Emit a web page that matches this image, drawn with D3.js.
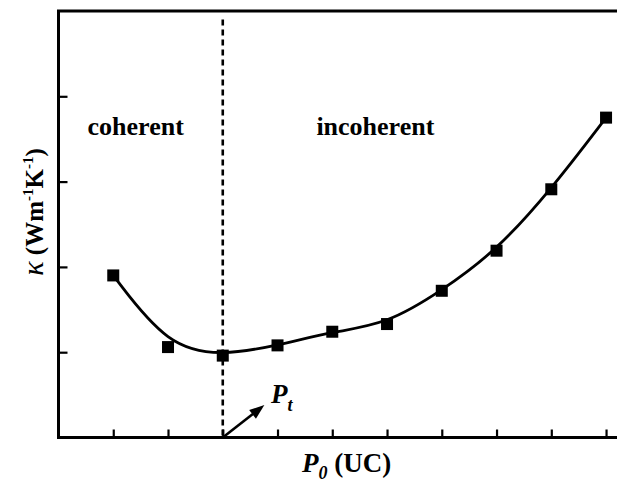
<!DOCTYPE html>
<html>
<head>
<meta charset="utf-8">
<title>Thermal conductivity vs period</title>
<script src="https://cdn.jsdelivr.net/npm/d3@7"></script>
<style>
  body { margin: 0; background: #fff; }
  svg text { font-family: 'Liberation Serif', 'Times New Roman', serif; font-weight: bold; fill: #000; }
</style>
</head>
<body>
<div id="chart"></div>
<script>
// data
var periods = [1, 2, 3, 4, 5, 6, 7, 8, 9, 10];
var kappa = [1.90, 1.06, 0.96, 1.08, 1.24, 1.33, 1.72, 2.19, 2.91, 3.75];
var xTicks = [1, 2, 3, 4, 5, 6, 7, 8, 9, 10];
var yTicks = [1, 2, 3, 4];
var transitionP = 3;

var width = 617, height = 484;
var margin = {top: 11, right: 0, bottom: 46.5, left: 58.5};

var svg = d3.select('#chart').append('svg')
    .attr('width', width)
    .attr('height', height);

var x = d3.scaleLinear().domain([0, 10.2]).range([margin.left, width - margin.right]);
var y = d3.scaleLinear().domain([0, 5]).range([height - margin.bottom, margin.top]);

// axes with inward ticks, no labels
var xAxis = d3.axisBottom(x).tickValues(xTicks).tickSize(-8).tickFormat('');
var yAxis = d3.axisLeft(y).tickValues(yTicks).tickSize(-9).tickFormat('');

var gx = svg.append('g')
    .attr('transform', 'translate(0,' + y(0) + ')')
    .call(xAxis);
var gy = svg.append('g')
    .attr('transform', 'translate(' + x(0) + ',0)')
    .call(yAxis);
[gx, gy].forEach(function (g) {
    g.select('.domain').remove();
    g.selectAll('.tick line').attr('stroke', '#000').attr('stroke-width', 2.2);
});

// frame: left, bottom, top (right side is cut off)
svg.append('path')
    .attr('d', 'M' + (width + 2) + ',' + y(5) + 'H' + x(0) + 'V' + y(0) + 'H' + (width + 2))
    .attr('fill', 'none')
    .attr('stroke', '#000')
    .attr('stroke-width', 3);

// dashed transition line
svg.append('line')
    .attr('x1', x(transitionP)).attr('x2', x(transitionP))
    .attr('y1', y(4.9)).attr('y2', y(0))
    .attr('stroke', '#000')
    .attr('stroke-width', 2.6)
    .attr('stroke-dasharray', '6,4');

// smooth fitted curve
var line = d3.line()
    .x(function (d, i) { return x(periods[i]); })
    .y(function (d) { return y(d); })
    .curve(d3.curveBasis);

svg.append('path')
    .datum(kappa)
    .attr('d', line)
    .attr('fill', 'none')
    .attr('stroke', '#000')
    .attr('stroke-width', 2.8);

// square markers
svg.selectAll('rect.pt')
    .data(kappa)
    .enter().append('rect')
    .attr('class', 'pt')
    .attr('x', function (d, i) { return x(periods[i]) - 6; })
    .attr('y', function (d) { return y(d) - 6; })
    .attr('width', 12)
    .attr('height', 12)
    .attr('fill', '#000');

// region labels
svg.append('text')
    .attr('x', x(0.53)).attr('y', y(3.55))
    .attr('font-size', 26)
    .text('coherent');
svg.append('text')
    .attr('x', x(4.71)).attr('y', y(3.55))
    .attr('font-size', 26)
    .text('incoherent');

// arrow pointing to Pt
var ax0 = x(transitionP), ay0 = y(0), ax1 = x(3.76), ay1 = y(0.38);
var ang = Math.atan2(ay1 - ay0, ax1 - ax0);
var headLen = 15, headHalf = 5.5;
var bx = ax1 - headLen * Math.cos(ang), by = ay1 - headLen * Math.sin(ang);
svg.append('line')
    .attr('x1', ax0).attr('y1', ay0)
    .attr('x2', bx + 2 * Math.cos(ang)).attr('y2', by + 2 * Math.sin(ang))
    .attr('stroke', '#000')
    .attr('stroke-width', 2.6);
svg.append('path')
    .attr('d', 'M' + ax1 + ',' + ay1 +
        'L' + (bx - headHalf * Math.sin(ang)) + ',' + (by + headHalf * Math.cos(ang)) +
        'L' + (bx + headHalf * Math.sin(ang)) + ',' + (by - headHalf * Math.cos(ang)) + 'Z')
    .attr('fill', '#000');

var pt = svg.append('text')
    .attr('x', x(3.88)).attr('y', y(0.4))
    .attr('font-size', 27)
    .attr('font-style', 'italic');
pt.append('tspan').text('P');
pt.append('tspan').attr('font-size', 18).attr('dy', 8).text('t');

// x axis title
var xt = svg.append('text')
    .attr('x', 302).attr('y', 472)
    .attr('font-size', 27);
xt.append('tspan').attr('font-style', 'italic').text('P');
xt.append('tspan').attr('font-style', 'italic').attr('font-size', 18).attr('dy', 7).text('0');
xt.append('tspan').attr('dy', -7).text(' (UC)');

// y axis title
var yt = svg.append('text')
    .attr('transform', 'translate(43,' + 212 + ') rotate(-90)')
    .attr('text-anchor', 'middle')
    .attr('font-size', 25);
yt.append('tspan').attr('font-style', 'italic').attr('font-weight', 'normal').attr('font-size', 30).text('κ');
yt.append('tspan').text(' (Wm');
yt.append('tspan').attr('font-size', 15).attr('dy', -10).text('-1');
yt.append('tspan').attr('dy', 10).text('K');
yt.append('tspan').attr('font-size', 15).attr('dy', -10).text('-1');
yt.append('tspan').attr('dy', 10).text(')');
</script>
</body>
</html>
